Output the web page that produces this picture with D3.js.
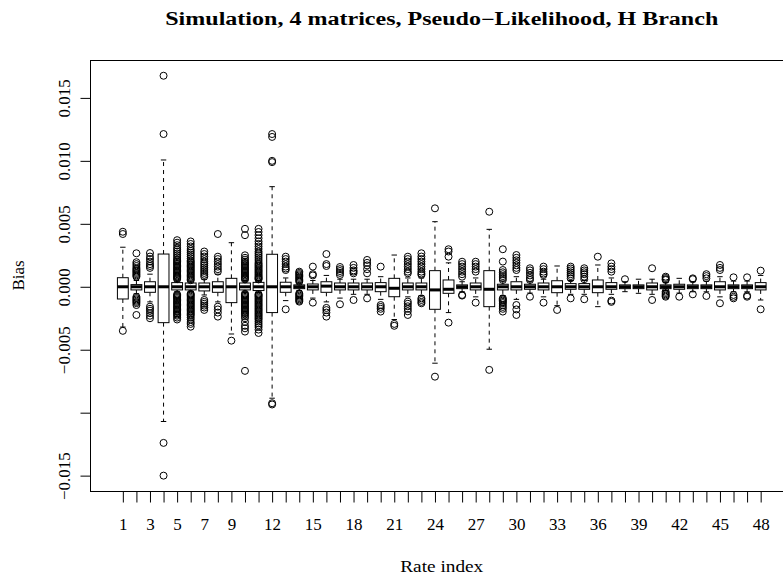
<!DOCTYPE html>
<html>
<head>
<meta charset="utf-8">
<script src="https://cdn.jsdelivr.net/npm/d3@7"></script>
<style>
  body { margin: 0; background: #fff; }
  text { font-family: "Liberation Serif", "DejaVu Serif", serif; fill: #000; }
</style>
</head>
<body>
<svg id="chart" width="783" height="576"></svg>
<script>
// Bias per rate index, all values in units of 10^-3
const rateIndex = [1,2,3,4,5,6,7,8,9,10,11,12,13,14,15,16,17,18,19,20,21,22,23,24,
                   25,26,27,28,29,30,31,32,33,34,35,36,37,38,39,40,41,42,43,44,45,46,47,48];
const xTickLabels = [1,3,5,7,9,12,15,18,21,24,27,30,33,36,39,42,45,48];

const whiskerLow = [-3.2,-0.55,-1.2,-10.7,-0.4,-0.4,-0.65,-1.2,-3.75,-0.45,-0.45,-8.85,
                    -1.1,-0.3,-0.9,-1.2,-0.9,-0.6,-0.6,-1.0,-2.6,-0.8,-0.7,-6.07,
                    -2.05,-0.4,-0.8,-4.96,-0.7,-1.0,-0.5,-0.8,-1.5,-0.6,-0.6,-1.58,
                    -0.6,-0.39,-0.52,-0.6,-0.3,-0.5,-0.4,-0.4,-0.8,-0.4,-0.4,-1.05];
const q1 =         [-0.97,-0.25,-0.44,-2.85,-0.25,-0.25,-0.33,-0.44,-1.26,-0.25,-0.3,-2.05,
                    -0.44,-0.15,-0.25,-0.44,-0.25,-0.25,-0.25,-0.39,-0.79,-0.25,-0.25,-1.79,
                    -0.52,-0.15,-0.25,-1.58,-0.25,-0.25,-0.2,-0.25,-0.47,-0.2,-0.2,-0.47,
                    -0.2,-0.15,-0.15,-0.25,-0.15,-0.2,-0.15,-0.15,-0.25,-0.15,-0.15,-0.25];
const median =     [0,0,0,0,0,0,0,0,0,0,0,0,
                    0,0,0,0.05,0,0,0,0,-0.12,0,0,-0.25,
                    -0.2,0,0,-0.2,0,0,0,0,0,0,0,0,
                    0,0,0,0,0,0,0,0,0,0,0,0];
const q3 =         [0.72,0.17,0.4,2.6,0.33,0.3,0.3,0.4,0.67,0.3,0.35,2.58,
                    0.36,0.15,0.22,0.4,0.3,0.3,0.3,0.33,0.67,0.3,0.3,1.28,
                    0.54,0.15,0.3,1.28,0.2,0.4,0.2,0.3,0.48,0.25,0.25,0.54,
                    0.33,0.15,0.15,0.3,0.15,0.2,0.15,0.15,0.4,0.15,0.15,0.33];
const whiskerHigh = [3.14,0.5,1.0,10.07,0.45,0.45,0.6,1.0,3.5,0.5,0.5,7.95,
                    0.7,0.3,0.5,0.9,0.6,0.6,0.6,0.8,2.52,0.7,0.7,5.17,
                    1.9,0.4,0.7,4.56,0.45,0.8,0.4,0.6,1.65,0.5,0.5,1.73,
                    0.7,0.4,0.6,0.6,0.35,0.67,0.4,0.45,0.8,0.45,0.45,0.9];
const outliers = [
  [4.37,4.19,-3.5],
  [2.66,1.95,1.8,1.65,1.5,1.4,1.3,1.2,1.1,1.0,0.9,0.8,-0.8,-0.9,-1.0,-1.1,-1.2,-1.3,-1.45,-2.24],
  [2.68,2.4,2.2,2.0,1.8,1.65,1.5,-1.58,-1.75,-1.9,-2.1,-2.3,-2.5],
  [16.76,12.13,-12.4,-15.0],
  [3.7,3.5,3.3,3.1,2.95,2.8,2.65,2.5,2.35,2.2,2.1,2.0,1.9,1.8,1.7,1.6,1.5,1.4,1.3,1.2,1.1,1.0,0.9,0.82,0.75,0.68,0.6,
   -0.6,-0.68,-0.75,-0.82,-0.9,-1.0,-1.1,-1.2,-1.3,-1.4,-1.5,-1.6,-1.7,-1.8,-1.9,-2.0,-2.1,-2.2,-2.3,-2.45,-2.6],
  [3.6,3.4,3.2,3.0,2.85,2.7,2.55,2.4,2.25,2.1,2.0,1.9,1.8,1.7,1.6,1.5,1.4,1.3,1.2,1.1,1.0,0.9,0.8,0.7,0.6,0.52,
   -0.55,-0.62,-0.7,-0.8,-0.9,-1.0,-1.1,-1.2,-1.3,-1.4,-1.5,-1.6,-1.7,-1.8,-1.9,-2.0,-2.1,-2.2,-2.3,-2.45,-2.6,-2.8,-2.95,-3.17],
  [2.8,2.6,2.4,2.2,2.0,1.85,1.7,1.55,1.4,1.25,1.1,0.95,0.8,-1.05,-1.2,-1.35,-1.5,-1.65,-1.84],
  [4.19,2.39,2.2,2.0,1.8,1.6,1.4,1.2,-1.58,-1.8,-2.05,-2.37],
  [-4.28],
  [4.6,4.1,2.5,2.3,2.15,2.0,1.9,1.8,1.7,1.6,1.5,1.4,1.3,1.2,1.1,1.0,0.9,0.8,0.72,0.65,0.58,
   -0.55,-0.62,-0.7,-0.8,-0.9,-1.0,-1.1,-1.2,-1.3,-1.4,-1.5,-1.6,-1.7,-1.8,-1.9,-2.0,-2.1,-2.2,-2.35,-2.5,-2.8,-3.1,-3.3,-3.56,-6.68],
  [4.6,4.35,4.1,3.85,3.6,3.4,3.2,3.0,2.8,2.65,2.5,2.35,2.2,2.05,1.9,1.8,1.7,1.6,1.5,1.4,1.3,1.2,1.1,1.0,0.9,0.8,0.72,0.65,0.58,
   -0.58,-0.65,-0.72,-0.8,-0.9,-1.0,-1.1,-1.2,-1.3,-1.4,-1.5,-1.6,-1.7,-1.8,-1.9,-2.0,-2.1,-2.2,-2.3,-2.4,-2.5,-2.6,-2.75,-2.9,-3.05,-3.2,-3.4,-3.67],
  [12.13,11.9,10.0,9.9,-9.25,-9.35],
  [2.39,2.2,2.0,1.8,1.6,1.45,1.33,-1.79],
  [1.2,1.1,1.0,0.9,0.8,0.7,0.6,0.5,0.4,-0.52,-0.6,-0.7,-0.8,-0.9,-1.0,-1.1,-1.18],
  [1.6,1.0,0.9,-1.26],
  [2.6,1.8,1.65,-1.68,-1.85,-2.05,-2.37],
  [1.57,1.4,1.25,1.1,0.94,-1.39],
  [1.73,1.5,1.3,1.2,1.07,-1.05],
  [2.13,1.9,1.7,1.4,1.07,-0.92],
  [1.6,-1.45,-1.6,-1.75,-1.97],
  [-2.95,-3.1],
  [2.39,2.2,2.0,1.8,1.6,1.4,1.2,1.07,-1.18,-1.35,-1.55,-1.75,-1.95,-2.24],
  [2.66,2.4,2.2,2.0,1.8,1.6,1.4,1.2,1.05,0.94,-0.92,-1.05,-1.2,-1.31],
  [6.23,-7.14],
  [2.98,2.8,2.39,-2.85],
  [1.99,1.8,1.6,1.4,1.2,1.0,0.8,-0.65,-0.7],
  [1.99,1.8,1.6,1.4,1.2,-1.26],
  [5.96,-6.6],
  [2.98,2.0,1.33,1.15,1.0,0.85,0.7,0.54,-0.92,-1.0,-1.1,-1.2,-1.3,-1.45,-1.6,-1.75,-1.97],
  [2.52,2.3,2.1,1.9,1.7,1.5,1.33,-1.45,-1.8,-2.24],
  [1.47,1.3,1.1,0.9,0.7,0.54,-0.79],
  [1.6,1.4,1.2,1.05,0.94,-1.26],
  [-1.84],
  [1.6,1.45,1.3,1.15,1.0,0.85,0.67,-0.92],
  [1.47,1.3,1.15,1.0,0.8,0.6,-0.99],
  [2.39],
  [1.86,1.6,1.4,1.2,-1.1,-1.2],
  [0.6],
  [],
  [1.47,-1.05],
  [0.8,0.7,0.6,0.54,-0.39,-0.5,-0.6,-0.7,-0.79],
  [-0.79],
  [0.67,0.6,-0.6],
  [1.0,0.85,0.67,-0.73],
  [1.73,1.5,1.33,-1.31],
  [0.75,-0.65,-0.8,-0.92],
  [0.75,-0.7,-0.79],
  [1.28,-1.79]
];

const yTickValues = [-15,-10,-5,0,5,10,15];
const yTickLabels = ["\u22120.015","","\u22120.005","0.000","0.005","0.010","0.015"];

const titleText = "Simulation, 4 matrices, Pseudo\u2212Likelihood, H Branch";
const xTitle = "Rate index";
const yTitle = "Bias";

// ---- layout ----
const svg = d3.select("#chart");
const plot = { left: 90, top: 60, bottom: 491, right: 793.5 };

const x = d3.scaleLinear().domain([-1.42, 50.42]).range([plot.left, plot.right]);
const y = d3.scaleLinear().domain([-16.22, 18.01]).range([plot.bottom, plot.top]);

const boxes = rateIndex.map((r, i) => ({
  r, lo: whiskerLow[i], q1: q1[i], med: median[i], q3: q3[i], hi: whiskerHigh[i], out: outliers[i]
}));

const boxHalf = 0.4, stapleHalf = 0.2;
const g = svg.append("g");

// whiskers (dashed, from box edge outward)
g.selectAll("line.wl").data(boxes).join("line")
  .attr("x1", d => x(d.r)).attr("x2", d => x(d.r))
  .attr("y1", d => y(d.q1)).attr("y2", d => y(d.lo))
  .attr("stroke", "#000").attr("stroke-width", 1).attr("stroke-dasharray", "4,4");
g.selectAll("line.wh").data(boxes).join("line")
  .attr("x1", d => x(d.r)).attr("x2", d => x(d.r))
  .attr("y1", d => y(d.q3)).attr("y2", d => y(d.hi))
  .attr("stroke", "#000").attr("stroke-width", 1).attr("stroke-dasharray", "4,4");

// staples
for (const key of ["lo", "hi"]) {
  g.selectAll("line.st-" + key).data(boxes).join("line")
    .attr("x1", d => x(d.r - stapleHalf)).attr("x2", d => x(d.r + stapleHalf))
    .attr("y1", d => y(d[key])).attr("y2", d => y(d[key]))
    .attr("stroke", "#000").attr("stroke-width", 1);
}

// boxes
g.selectAll("rect.box").data(boxes).join("rect")
  .attr("x", d => x(d.r - boxHalf)).attr("width", d => x(d.r + boxHalf) - x(d.r - boxHalf))
  .attr("y", d => y(d.q3)).attr("height", d => y(d.q1) - y(d.q3))
  .attr("fill", "#fff").attr("stroke", "#000").attr("stroke-width", 1);

// medians
g.selectAll("line.med").data(boxes).join("line")
  .attr("x1", d => x(d.r - boxHalf)).attr("x2", d => x(d.r + boxHalf))
  .attr("y1", d => y(d.med)).attr("y2", d => y(d.med))
  .attr("stroke", "#000").attr("stroke-width", 3);

// outliers
const outPts = boxes.flatMap(d => d.out.map(v => ({ r: d.r, v })));
g.selectAll("circle.out").data(outPts).join("circle")
  .attr("cx", d => x(d.r)).attr("cy", d => y(d.v)).attr("r", 3.5)
  .attr("fill", "none").attr("stroke", "#000").attr("stroke-width", 1);

// frame
svg.append("rect")
  .attr("x", plot.left + 0.5).attr("y", plot.top + 0.5)
  .attr("width", plot.right - plot.left).attr("height", plot.bottom - plot.top)
  .attr("fill", "none").attr("stroke", "#000").attr("stroke-width", 1);

// x axis
const xAxis = d3.axisBottom(x).tickValues(rateIndex).tickSize(11).tickPadding(16)
  .tickFormat(d => xTickLabels.includes(d) ? String(d) : "");
const xg = svg.append("g").attr("transform", `translate(0,${plot.bottom + 0.5})`).call(xAxis);
xg.select(".domain").remove();
xg.selectAll("line").attr("stroke", "#000");
xg.selectAll("text").attr("font-size", 17).attr("font-family", "Liberation Serif").attr("dy", null).attr("y", 38);

// y axis
const yAxis = d3.axisLeft(y).tickValues(yTickValues).tickSize(10)
  .tickFormat((d, i) => yTickLabels[i]);
const yg = svg.append("g").attr("transform", `translate(${plot.left + 0.5},0)`).call(yAxis);
yg.select(".domain").remove();
yg.selectAll("line").attr("stroke", "#000");
yg.selectAll("text")
  .attr("font-size", 17).attr("font-family", "Liberation Serif")
  .attr("x", null).attr("dy", null).attr("text-anchor", "middle")
  .attr("transform", "translate(-20.5,0) rotate(-90)");

// titles
svg.append("text").attr("x", (plot.left + plot.right) / 2).attr("y", 25)
  .attr("text-anchor", "middle").attr("font-size", 18).attr("font-weight", "bold")
  .attr("textLength", 553).attr("lengthAdjust", "spacingAndGlyphs").text(titleText);
svg.append("text").attr("x", (plot.left + plot.right) / 2).attr("y", 572)
  .attr("text-anchor", "middle").attr("font-size", 17)
  .attr("textLength", 83).attr("lengthAdjust", "spacingAndGlyphs").text(xTitle);
svg.append("text").attr("transform", `translate(24,${(plot.top + plot.bottom) / 2}) rotate(-90)`)
  .attr("text-anchor", "middle").attr("font-size", 17).text(yTitle);
</script>
</body>
</html>
